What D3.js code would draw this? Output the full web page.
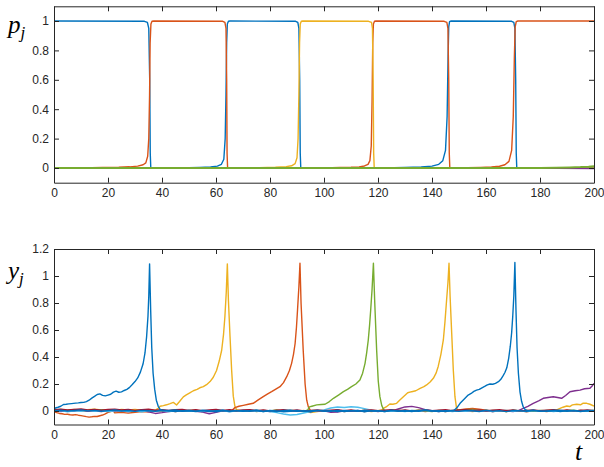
<!DOCTYPE html>
<html>
<head>
<meta charset="utf-8">
<script src="https://cdn.jsdelivr.net/npm/d3@7"></script>
<style>
  body { margin: 0; background: #fff; }
  svg { display: block; }
  .tick text { font-family: "Liberation Sans", Arial, sans-serif; font-size: 12px; fill: #262626; }
  .lbl { font-family: "Liberation Serif", "Times New Roman", serif; font-style: italic; fill: #000; }
</style>
</head>
<body>
<svg id="chart" width="604" height="467"></svg>
<script>
// colours (matlab default order)
const cBlue = "#0072BD", cRed = "#D95319", cYellow = "#EDB120", cPurple = "#7E2F8E",
      cGreen = "#77AC30", cLightBlue = "#4DBEEE", cDarkRed = "#A2142F";

const xTicks = [0, 20, 40, 60, 80, 100, 120, 140, 160, 180, 200];
const pTicks = [0, 0.2, 0.4, 0.6, 0.8, 1];
const yTicks = [0, 0.2, 0.4, 0.6, 0.8, 1, 1.2];

// ---- top panel: p_j, [t, p] pairs ----
const pBlue = [[0,1],[33.5,.998],[34.6,.99],[35.1,.95],[35.45,.6],[35.65,.1],[35.85,0],[44,0],[50,.002],[54,.004],[58,.007],[60.5,.013],[62,.025],[62.9,.06],[63.4,.2],[63.7,.5],[63.95,.85],[64.2,.98],[64.6,.998],[65.2,1],[89.5,.998],[90.3,.99],[90.7,.95],[91,.6],[91.2,.1],[91.4,0],[122,0],[130,.003],[136,.007],[140,.013],[142.5,.025],[144,.05],[145,.12],[145.6,.35],[145.95,.75],[146.2,.96],[146.5,.995],[147.1,1],[169.5,.998],[170.3,.99],[170.7,.95],[171,.6],[171.2,.1],[171.4,0],[200,0]];
const pRed = [[0,0],[10,.001],[18,.003],[24,.005],[28,.008],[31,.013],[33,.022],[34,.035],[34.7,.08],[35.1,.2],[35.4,.5],[35.6,.85],[35.9,.98],[36.3,.998],[37,1],[62.5,.998],[63.3,.99],[63.7,.95],[63.95,.6],[64.1,.1],[64.3,0],[100,0],[106,.003],[110,.005],[113,.008],[115,.014],[116.3,.025],[117,.05],[117.5,.15],[117.8,.45],[118.05,.85],[118.3,.98],[118.7,.998],[119.3,1],[144.5,.998],[145.5,.99],[145.9,.95],[146.2,.6],[146.4,.1],[146.6,0],[150,0],[153,.002],[158,.004],[162,.007],[165,.012],[167,.022],[168.5,.045],[169.5,.12],[170.1,.35],[170.5,.75],[170.8,.96],[171.2,.995],[171.8,1],[200,1]];
const pYellow = [[0,0],[70,0],[76,.002],[82,.005],[86,.009],[88,.015],[89.3,.03],[90,.07],[90.4,.2],[90.7,.5],[90.95,.85],[91.2,.98],[91.6,.998],[92.2,1],[116.5,.998],[117.6,.99],[117.95,.95],[118.2,.6],[118.4,.1],[118.6,0],[200,0]];
const pPurple = [[0,0],[176,0],[186,-.002],[200,-.003]];
const pGreen = [[0,0],[180,0],[186,.002],[191,.004],[195,.006],[198,.009],[200,.012]];

// ---- bottom panel: y_j ----
// small background wiggle of every trace, sampled every 2.5 time units (81 values)
const tGrid = d3.range(0, 200.1, 2.5);
const nBlue = [.004,-.003,.006,.001,-.005,.003,.007,-.002,.004,-.006,
  .002,.005,-.003,.006,-.001,.003,-.005,.004,.007,-.002,
  .001,-.004,.006,.002,-.006,.004,-.001,.005,-.003,.003,
  .007,-.004,.002,-.005,.004,.006,-.002,.003,-.006,.005,
  .001,-.003,.006,-.004,.002,.005,-.006,.003,.001,-.004,
  .006,-.002,.004,-.005,.003,.007,-.001,.002,-.004,.005,
  -.003,.006,.001,-.005,.004,-.002,.003,.006,-.004,.002,
  -.006,.005,.001,-.003,.004,.006,-.002,.003,-.005,.004,.002];
const nYellow = [.008,.012,.006,.011,.004,.009,.013,.007,.010,.005,
  .011,.008,.012,.006,.010,.004,.002,-.003,.004,-.002,
  .005,-.004,.003,.006,-.003,.002,-.005,.004,.001,-.003,
  .005,-.002,.003,-.004,.006,.001,-.003,.004,-.012,-.004,
  .003,-.002,.005,-.003,.004,-.001,.006,-.004,.002,.005,
  -.003,.004,.007,-.002,.003,-.005,.004,.001,-.003,.006,
  -.002,.004,-.004,.003,.006,-.003,.002,-.005,.004,.001,
  -.002,.005,-.003,.004,.002,-.004,.006,.001,-.003,.004,.002];
const nRed = [-.005,-.003,.002,-.006,-.012,-.008,-.015,-.010,-.008,-.014,
  -.010,-.016,-.009,-.004,-.006,.003,-.003,.002,-.005,.004,
  -.002,.003,-.004,.002,.006,-.003,.004,-.005,.002,.006,
  -.004,.003,-.002,.005,-.006,.003,.001,-.004,.005,-.003,
  .004,-.002,.006,-.004,.003,.001,-.005,.004,.002,-.003,
  .006,-.003,.004,-.002,.005,-.004,.003,.001,-.005,.004,
  .008,.016,.019,.014,.006,-.004,.002,.005,-.003,.004,
  -.006,.003,.001,-.004,.005,-.002,.004,-.003,.006,-.002,.003];
const nGreen = [.006,-.002,.004,.008,.001,-.003,.005,.009,.002,-.004,
  .006,.003,-.002,.007,.004,-.003,.005,.001,.008,-.002,
  .004,.006,-.004,.003,.007,-.001,.005,-.003,.002,.006,
  -.004,.004,.001,.007,-.002,.005,.003,-.005,.006,.002,
  -.003,.004,.007,-.001,.003,.006,-.004,.002,.005,-.002,
  .004,.007,-.003,.002,.006,.001,-.004,.005,.003,-.002,
  .006,.009,.012,.004,-.002,.005,.003,-.004,.006,.001,
  .004,-.003,.005,.002,.007,-.002,.004,.006,-.001,.003,.005];
const nPurple = [.002,-.004,.003,-.002,.005,-.003,.001,-.005,.004,-.002,
  .003,-.004,.002,.005,-.006,-.018,-.012,-.004,.002,-.003,
  .004,-.002,-.008,-.020,-.010,.001,-.004,.003,-.002,.004,
  -.003,.002,-.005,.003,-.002,.004,-.003,.002,-.006,.003,
  .001,-.010,-.008,.002,-.003,.004,-.002,.003,-.004,.003,
  -.002,.015,.030,.034,.025,.010,.003,-.004,.002,-.003,
  .003,-.002,.004,-.003,.002,-.005,.003,.001,-.004,.002,
  .005,.004,.003,.002,.001,.002,.003,.004,.005,.006,.004];
const nLightBlue = [-.004,.003,-.006,.002,-.003,.005,-.002,.004,-.005,.001,
  .003,-.004,.002,-.006,.004,-.002,.003,-.005,.002,.004,
  -.003,.001,-.005,.003,-.002,.004,-.006,.002,-.003,.005,
  -.002,.003,-.004,-.012,-.022,-.030,-.026,-.015,-.004,.003,
  .008,.022,.030,.026,.032,.028,.018,.006,-.002,.004,
  -.003,.002,-.004,.003,-.002,.005,-.003,.002,.004,-.005,
  .002,-.003,.004,-.002,.003,-.004,.002,.005,-.003,.001,
  -.004,.003,-.002,.004,-.005,.002,.003,-.003,.004,-.002,.003];
const nDarkRed = [.010,.013,.007,.012,.015,.008,.011,.006,.012,.014,
  .007,.011,.005,.010,.013,.006,.009,.004,.010,.012,
  .005,.009,.003,.008,.011,.004,.009,.002,.007,.010,
  .003,.008,.001,.006,.009,.002,.007,.000,.005,.008,
  .002,.006,.009,.003,.007,.000,.004,.008,.002,.006,
  .009,.003,.007,.001,.005,.008,.002,.006,.009,.003,
  .007,.010,.004,.008,.002,.006,.009,.003,.007,.001,
  .005,.008,.002,.006,.009,.003,.007,.001,.005,.008,.003];
const nNavy = [.002,.006,-.001,.004,.008,.001,.005,-.002,.003,.007,
  .000,.004,-.003,.005,.002,-.002,.006,.001,-.004,.003,
  .005,-.001,.003,-.005,.002,.006,-.003,.001,.004,-.002,
  .003,-.004,.005,.001,-.006,-.002,.004,-.003,.002,.005,
  -.002,.003,-.005,.004,.001,-.003,.006,-.001,.002,-.004,
  .005,.001,-.003,.004,-.002,.006,.002,-.004,.003,.001,
  -.003,.005,.002,-.004,.006,-.001,.003,-.005,.004,.002,
  -.002,.006,-.003,.001,.004,-.004,.003,.005,-.002,.001,.004];

// the bursts, [t, y] pairs; they replace the wiggle over their time span
const exBlue1 = [[0,.01],[0.5,.022],[1.5,.028],[2.5,.035],[3.5,.048],[4.5,.05],[5.5,.053],[6.5,.055],[8,.058],[9,.06],[10,.063],[11,.064],[12,.07],[13,.08],[14,.095],[15,.108],[16,.122],[17,.127],[18,.116],[19,.112],[20,.118],[21,.124],[22,.14],[23,.147],[24,.139],[25,.142],[26,.152],[27,.16],[28,.175],[29,.196],[30,.218],[31,.245],[32,.288],[33,.35],[33.7,.43],[34.3,.55],[34.8,.7],[35.1,.85],[35.4,1.09],[35.8,.75],[36.2,.47],[36.7,.28],[37.3,.16],[37.9,.08],[38.6,.035],[39.3,.012],[40,.004]];
const exBlue2 = [[148,.004],[148.7,.015],[149.4,.028],[150.4,.057],[151.5,.08],[152.5,.1],[153.4,.118],[154.5,.13],[155.5,.145],[156.5,.155],[157.5,.16],[158.5,.172],[159.5,.182],[160.5,.194],[161.5,.2],[162.5,.198],[163.5,.205],[164.6,.217],[165.5,.235],[166.3,.26],[167,.285],[167.7,.32],[168.4,.39],[169,.48],[169.5,.58],[169.9,.7],[170.3,.85],[170.7,1.1],[171.1,.75],[171.5,.47],[172,.28],[172.6,.14],[173.2,.07],[173.8,.03],[174.5,.01],[175.3,.003]];
const exYellow1 = [[38,.012],[38.6,.02],[39.3,.035],[40.5,.04],[41.7,.046],[43,.055],[44.2,.064],[45.4,.045],[46.5,.07],[47.9,.105],[49,.12],[50.3,.135],[51.6,.15],[53,.16],[54,.172],[55.3,.18],[56.5,.195],[57.8,.218],[59,.25],[60.2,.3],[61.2,.37],[62.1,.45],[62.8,.57],[63.3,.7],[63.8,.88],[64.2,1.09],[64.6,.82],[65.2,.55],[65.8,.3],[66.4,.11],[67,.035],[67.6,.01]];
const exYellow2 = [[121.5,.008],[122,.02],[123,.03],[124.4,.052],[125.5,.05],[126.9,.057],[128,.08],[129.4,.106],[131,.135],[132.5,.143],[134,.15],[135.6,.168],[137,.18],[138,.193],[139.3,.215],[140.5,.242],[141.5,.28],[142.3,.33],[143.3,.42],[144.2,.526],[144.8,.66],[145.4,.82],[145.9,.95],[146.3,1.094],[146.7,.85],[147.3,.575],[147.9,.3],[148.5,.106],[149.1,.02],[149.7,.005]];
const exYellow3 = [[186,.006],[187,.015],[188.5,.028],[189.9,.037],[191,.033],[192,.045],[193.6,.05],[195,.046],[196,.058],[197.3,.057],[198.5,.05],[200,.037]];
const exRed1 = [[0,-.005],[1,-.012],[2,-.018],[3,-.02],[4,-.025],[5,-.024],[6,-.028],[7,-.03],[8,-.027],[9,-.031],[10,-.034],[11,-.038],[12,-.042],[13,-.045],[14,-.043],[15,-.04],[16,-.041],[17,-.035],[18,-.03],[19,-.022],[20,-.01],[21,-.004],[22,.002]];
const exRed2 = [[66,.006],[67,.025],[68.5,.035],[70.1,.042],[72,.05],[73.8,.057],[75.5,.08],[77.5,.106],[79,.125],[80.6,.143],[82,.16],[83.7,.18],[85,.21],[86.2,.254],[87.2,.3],[88,.353],[88.7,.42],[89.3,.5],[89.8,.62],[90.2,.75],[90.7,.92],[91.1,1.094],[91.5,.8],[92.3,.45],[93,.2],[93.6,.08],[94.2,.03],[94.8,.01]];
const exGreen = [[94,.008],[94.6,.03],[95.5,.035],[97.3,.045],[99,.048],[100.4,.05],[102,.07],[103.5,.094],[105.5,.12],[107.2,.143],[108.7,.16],[110.2,.18],[111.8,.2],[113.3,.23],[114.3,.28],[115.2,.353],[115.8,.43],[116.4,.526],[116.9,.64],[117.3,.75],[117.8,.9],[118.3,1.094],[118.8,.8],[119.5,.45],[120.1,.22],[120.7,.106],[121.4,.04],[122,.015]];
const exPurple = [[172,.003],[173.8,.02],[175.5,.035],[177.5,.057],[179.5,.075],[181.2,.094],[183,.1],[184.9,.106],[186.5,.1],[188,.094],[189.5,.115],[191.1,.143],[193,.15],[194.8,.155],[196.5,.165],[198.5,.168],[199.3,.185],[200,.205]];

function withBursts(noise, bursts) {
    let pts = tGrid.map((t, i) => [t, noise[i]])
        .filter(([t]) => !bursts.some(b => t >= b[0][0] && t <= b[b.length - 1][0]));
    bursts.forEach(b => pts = pts.concat(b));
    return pts.sort((a, b) => a[0] - b[0]);
}

const svg = d3.select("#chart");
const x = d3.scaleLinear().domain([0, 200]).range([54, 594]);
const yTop = d3.scaleLinear().domain([-0.1, 1.1]).range([182.7, 6.3]);
const yBot = d3.scaleLinear().domain([-0.1, 1.2]).range([424.5, 249]);

function panel(id, y, yVals, lines) {
    const g = svg.append("g");
    const [y0, y1] = y.range();
    g.append("clipPath").attr("id", id)
        .append("rect").attr("x", x.range()[0]).attr("y", y1)
        .attr("width", x.range()[1] - x.range()[0]).attr("height", y0 - y1);

    const line = d3.line().x(d => x(d[0])).y(d => y(d[1]));
    const lg = g.append("g").attr("clip-path", `url(#${id})`);
    lines.forEach(l => {
        lg.append("path").datum(l.data)
            .attr("d", line)
            .attr("fill", "none")
            .attr("stroke", l.color)
            .attr("stroke-width", l.w || 1.4)
            .attr("stroke-linejoin", "round");
    });

    const fmt = d => String(d);
    const ax = [
        g.append("g").attr("transform", `translate(0,${y0})`)
            .call(d3.axisBottom(x).tickValues(xTicks).tickFormat(fmt).tickSizeInner(-5).tickSizeOuter(0).tickPadding(6)),
        g.append("g").attr("transform", `translate(0,${y1})`)
            .call(d3.axisTop(x).tickValues(xTicks).tickFormat("").tickSizeInner(-5).tickSizeOuter(0)),
        g.append("g").attr("transform", `translate(${x.range()[0]},0)`)
            .call(d3.axisLeft(y).tickValues(yVals).tickFormat(fmt).tickSizeInner(-5).tickSizeOuter(0).tickPadding(5)),
        g.append("g").attr("transform", `translate(${x.range()[1]},0)`)
            .call(d3.axisRight(y).tickValues(yVals).tickFormat("").tickSizeInner(-5).tickSizeOuter(0))
    ];
    ax.forEach(a => {
        a.select(".domain").attr("stroke", "#262626");
        a.selectAll(".tick line").attr("stroke", "#262626");
    });
}

panel("clipTop", yTop, pTicks, [
    { data: pBlue, color: cBlue },
    { data: pRed, color: cRed },
    { data: pYellow, color: cYellow },
    { data: pPurple, color: cPurple },
    { data: pGreen, color: cGreen, w: 2 }
]);

panel("clipBot", yBot, yTicks, [
    { data: withBursts(nYellow, [exYellow1, exYellow2, exYellow3]), color: cYellow },
    { data: withBursts(nRed, [exRed1, exRed2]), color: cRed },
    { data: withBursts(nGreen, [exGreen]), color: cGreen },
    { data: withBursts(nPurple, [exPurple]), color: cPurple },
    { data: withBursts(nLightBlue, []), color: cLightBlue },
    { data: withBursts(nDarkRed, []), color: cDarkRed },
    { data: withBursts(nBlue, [exBlue1, exBlue2]), color: cBlue },
    { data: withBursts(nNavy, []), color: cBlue }
]);

// axis symbols
const pl = svg.append("text").attr("class", "lbl").attr("x", 8).attr("y", 33).style("font-size", "25px");
pl.append("tspan").text("p");
pl.append("tspan").attr("dy", 5).style("font-size", "17px").text("j");

const yl = svg.append("text").attr("class", "lbl").attr("x", 8).attr("y", 279).style("font-size", "25px");
yl.append("tspan").text("y");
yl.append("tspan").attr("dy", 5).style("font-size", "17px").text("j");

svg.append("text").attr("class", "lbl").attr("x", 575).attr("y", 460).style("font-size", "26px").text("t");
</script>
</body>
</html>
